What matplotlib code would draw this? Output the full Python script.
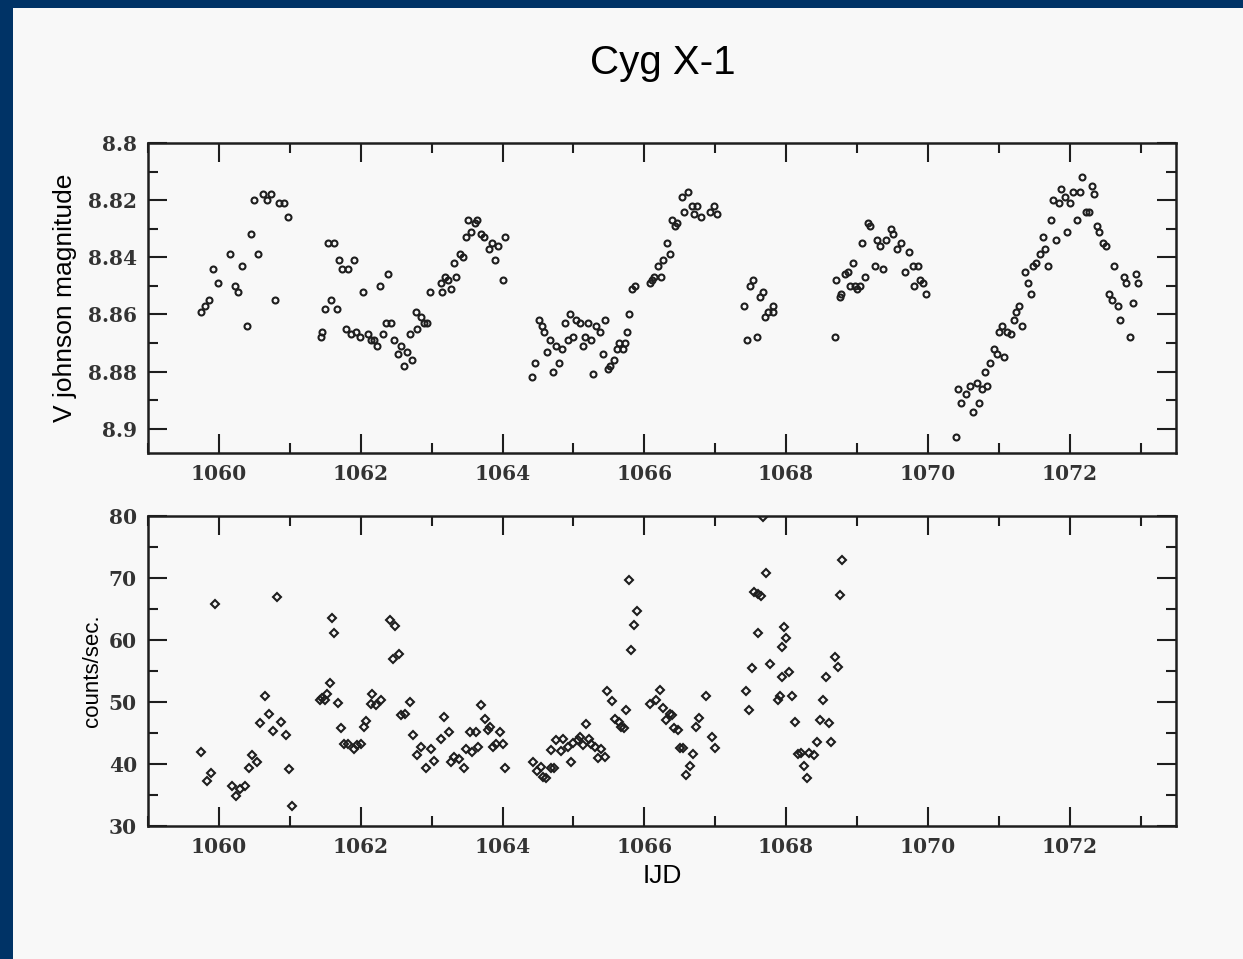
import numpy as np
import matplotlib
matplotlib.use('Agg')
import matplotlib.pyplot as plt
from matplotlib.ticker import MultipleLocator
from matplotlib.patches import Rectangle

# V band photometry (IJD, magnitude)
jd_v = [1059.74, 1059.80, 1059.86, 1059.92, 1059.99, 1060.15, 1060.22, 1060.27, 1060.33, 1060.39,
        1060.45, 1060.50, 1060.55, 1060.62, 1060.68, 1060.73, 1060.79, 1060.85, 1060.92, 1060.97,
        1061.44, 1061.46, 1061.54, 1061.62, 1061.50, 1061.58, 1061.66, 1061.70, 1061.74, 1061.82,
        1061.90, 1061.79, 1061.86, 1061.94, 1061.99, 1062.03, 1062.10, 1062.14, 1062.19, 1062.23,
        1062.27, 1062.32, 1062.36, 1062.38, 1062.43, 1062.47, 1062.57, 1062.52, 1062.61, 1062.65,
        1062.73, 1062.69, 1062.78, 1062.80, 1062.85, 1062.89, 1062.94, 1062.98, 1063.13, 1063.15,
        1063.19, 1063.23, 1063.27, 1063.31, 1063.35, 1063.40, 1063.44, 1063.48, 1063.52, 1063.55,
        1063.61, 1063.64, 1063.69, 1063.74, 1063.81, 1063.85, 1063.90, 1063.94, 1064.00, 1064.03,
        1064.42, 1064.46, 1064.51, 1064.56, 1064.59, 1064.63, 1064.67, 1064.71, 1064.75, 1064.80,
        1064.84, 1064.88, 1064.93, 1064.95, 1065.00, 1065.04, 1065.09, 1065.13, 1065.17, 1065.20,
        1065.25, 1065.28, 1065.32, 1065.37, 1065.42, 1065.45, 1065.49, 1065.52, 1065.57, 1065.62,
        1065.65, 1065.70, 1065.73, 1065.76, 1065.79, 1065.83, 1065.87, 1066.08, 1066.11, 1066.14,
        1066.20, 1066.24, 1066.27, 1066.32, 1066.36, 1066.39, 1066.43, 1066.46, 1066.53, 1066.56,
        1066.62, 1066.67, 1066.75, 1066.70, 1066.80, 1066.93, 1066.98, 1067.02,
        1067.41, 1067.45, 1067.49, 1067.54, 1067.59, 1067.63, 1067.67, 1067.70, 1067.75, 1067.81,
        1067.82,
        1068.69, 1068.70, 1068.76, 1068.77, 1068.83, 1068.88, 1068.90, 1068.94, 1068.97, 1069.00,
        1069.04, 1069.07, 1069.12, 1069.15, 1069.19, 1069.25, 1069.28, 1069.32, 1069.36, 1069.41,
        1069.48, 1069.51, 1069.56, 1069.62, 1069.68, 1069.73, 1069.79, 1069.86, 1069.80, 1069.89,
        1069.93, 1069.98,
        1070.40, 1070.43, 1070.47, 1070.54, 1070.59, 1070.64, 1070.69, 1070.72, 1070.77, 1070.83,
        1070.80, 1070.87, 1070.93, 1070.97, 1071.07, 1071.00, 1071.05, 1071.12, 1071.17, 1071.21,
        1071.25, 1071.29, 1071.33, 1071.37, 1071.41, 1071.45, 1071.48, 1071.53, 1071.58, 1071.62,
        1071.65, 1071.69, 1071.74, 1071.76, 1071.81, 1071.85, 1071.88, 1071.93, 1071.96, 1072.01,
        1072.05, 1072.10, 1072.14, 1072.18, 1072.23, 1072.27, 1072.31, 1072.35, 1072.38, 1072.41,
        1072.47, 1072.51, 1072.63, 1072.55, 1072.60, 1072.68, 1072.71, 1072.77, 1072.80, 1072.85,
        1072.89, 1072.93, 1072.96]
vmag = [8.859, 8.857, 8.855, 8.844, 8.849, 8.839, 8.850, 8.852, 8.843, 8.864,
        8.832, 8.820, 8.839, 8.818, 8.820, 8.818, 8.855, 8.821, 8.821, 8.826,
        8.868, 8.866, 8.835, 8.835, 8.858, 8.855, 8.858, 8.841, 8.844, 8.844,
        8.841, 8.865, 8.867, 8.866, 8.868, 8.852, 8.867, 8.869, 8.869, 8.871,
        8.850, 8.867, 8.863, 8.846, 8.863, 8.869, 8.871, 8.874, 8.878, 8.873,
        8.876, 8.867, 8.859, 8.865, 8.861, 8.863, 8.863, 8.852, 8.849, 8.852,
        8.847, 8.848, 8.851, 8.842, 8.847, 8.839, 8.840, 8.833, 8.827, 8.831,
        8.828, 8.827, 8.832, 8.833, 8.837, 8.835, 8.841, 8.836, 8.848, 8.833,
        8.882, 8.877, 8.862, 8.864, 8.866, 8.873, 8.869, 8.880, 8.871, 8.877,
        8.872, 8.863, 8.869, 8.860, 8.868, 8.862, 8.863, 8.871, 8.868, 8.863,
        8.869, 8.881, 8.864, 8.866, 8.874, 8.862, 8.879, 8.878, 8.876, 8.872,
        8.870, 8.872, 8.870, 8.866, 8.860, 8.851, 8.850, 8.849, 8.848, 8.847,
        8.843, 8.847, 8.841, 8.835, 8.839, 8.827, 8.829, 8.828, 8.819, 8.824,
        8.817, 8.822, 8.822, 8.825, 8.826, 8.824, 8.822, 8.825,
        8.857, 8.869, 8.850, 8.848, 8.868, 8.854, 8.852, 8.861, 8.859, 8.857,
        8.859,
        8.868, 8.848, 8.854, 8.853, 8.846, 8.845, 8.850, 8.842, 8.850, 8.851,
        8.850, 8.835, 8.847, 8.828, 8.829, 8.843, 8.834, 8.836, 8.844, 8.834,
        8.830, 8.832, 8.837, 8.835, 8.845, 8.838, 8.843, 8.843, 8.850, 8.848,
        8.849, 8.853,
        8.903, 8.886, 8.891, 8.888, 8.885, 8.894, 8.884, 8.891, 8.886, 8.885,
        8.880, 8.877, 8.872, 8.874, 8.875, 8.866, 8.864, 8.866, 8.867, 8.862,
        8.859, 8.857, 8.864, 8.845, 8.849, 8.853, 8.843, 8.842, 8.839, 8.833,
        8.837, 8.843, 8.827, 8.820, 8.834, 8.821, 8.816, 8.819, 8.831, 8.821,
        8.817, 8.827, 8.817, 8.812, 8.824, 8.824, 8.815, 8.818, 8.829, 8.831,
        8.835, 8.836, 8.843, 8.853, 8.855, 8.857, 8.862, 8.847, 8.849, 8.868,
        8.856, 8.846, 8.849]

# X-ray count rate (IJD, counts/sec)
jd_x = [1059.75, 1059.83, 1059.89, 1059.95, 1060.18, 1060.24, 1060.30, 1060.37, 1060.42, 1060.47,
        1060.53, 1060.58, 1060.65, 1060.71, 1060.76, 1060.82, 1060.88, 1060.94, 1060.99, 1061.03,
        1061.43, 1061.46, 1061.49, 1061.52, 1061.56, 1061.60, 1061.63, 1061.68, 1061.72, 1061.76,
        1061.82, 1061.91, 1061.95, 1062.01, 1062.05, 1062.08, 1062.16, 1062.14, 1062.21, 1062.28,
        1062.41, 1062.49, 1062.45, 1062.54, 1062.57, 1062.62, 1062.69, 1062.74, 1062.79, 1062.85,
        1062.92, 1062.99, 1063.03, 1063.13, 1063.17, 1063.24, 1063.28, 1063.31, 1063.38, 1063.45,
        1063.49, 1063.57, 1063.54, 1063.62, 1063.66, 1063.70, 1063.75, 1063.79, 1063.83, 1063.87,
        1063.91, 1063.96, 1064.01, 1064.03,
        1064.43, 1064.48, 1064.54, 1064.57, 1064.61, 1064.68, 1064.72, 1064.69, 1064.76, 1064.82,
        1064.86, 1064.93, 1064.97, 1065.00, 1065.06, 1065.10, 1065.14, 1065.18, 1065.22, 1065.25,
        1065.30, 1065.34, 1065.39, 1065.44, 1065.48, 1065.54, 1065.59, 1065.64, 1065.67, 1065.71,
        1065.74, 1065.78, 1065.81, 1065.85, 1065.90, 1066.08, 1066.17, 1066.22, 1066.26, 1066.31,
        1066.36, 1066.39, 1066.42, 1066.47, 1066.51, 1066.55, 1066.59, 1066.65, 1066.69, 1066.73,
        1066.77, 1066.87, 1066.95, 1067.00,
        1067.44, 1067.48, 1067.52, 1067.55, 1067.60, 1067.65, 1067.60, 1067.68, 1067.72, 1067.77,
        1067.89, 1067.91, 1067.94, 1067.94, 1067.97, 1068.00, 1068.04, 1068.09, 1068.13, 1068.17,
        1068.21, 1068.25, 1068.29, 1068.33, 1068.39, 1068.43, 1068.48, 1068.52, 1068.56, 1068.61,
        1068.64, 1068.69, 1068.73, 1068.76, 1068.79]
rate = [41.9, 37.3, 38.5, 65.8, 36.5, 34.8, 36.0, 36.5, 39.4, 41.5,
        40.4, 46.6, 51.0, 48.1, 45.4, 67.0, 46.7, 44.7, 39.2, 33.3,
        50.3, 50.6, 50.3, 51.3, 53.0, 63.6, 61.2, 49.9, 45.8, 43.2,
        43.2, 42.4, 43.1, 43.2, 46.0, 47.0, 51.3, 49.7, 49.5, 50.3,
        63.3, 62.3, 56.9, 57.7, 47.9, 48.1, 50.0, 44.7, 41.5, 42.7,
        39.3, 42.4, 40.5, 44.1, 47.6, 45.1, 40.4, 41.2, 40.8, 39.3,
        42.4, 42.0, 45.1, 45.1, 42.7, 49.5, 47.2, 45.5, 46.0, 42.8,
        43.2, 45.1, 43.2, 39.3,
        40.4, 38.8, 39.5, 37.9, 37.7, 39.3, 39.3, 42.3, 43.8, 42.1,
        44.0, 42.7, 40.3, 43.4, 43.9, 44.3, 43.1, 46.5, 44.1, 43.3,
        42.8, 40.9, 42.4, 41.2, 51.7, 50.2, 47.2, 46.7, 46.0, 45.8,
        48.7, 69.7, 58.4, 62.5, 64.7, 49.7, 50.3, 51.9, 49.0, 47.1,
        48.1, 47.9, 45.8, 45.5, 42.5, 42.5, 38.2, 39.7, 41.6, 46.0,
        47.4, 51.0, 44.3, 42.5,
        51.7, 48.7, 55.5, 67.8, 67.4, 67.1, 61.1, 79.9, 70.8, 56.1,
        50.3, 51.0, 54.1, 58.9, 62.1, 60.4, 54.9, 50.9, 46.8, 41.6,
        41.8, 39.6, 37.8, 41.7, 41.5, 43.6, 47.1, 50.3, 54.0, 46.6,
        43.6, 57.2, 55.6, 67.3, 72.9]

bg = '#f8f8f8'
navy = '#003366'
ink = '#1e1e1e'

fig = plt.figure(figsize=(12.43, 9.59), dpi=100, facecolor=bg)

# screenshot frame along left and top edges
fig.patches.append(Rectangle((0, 0), 13 / 1243, 1, transform=fig.transFigure,
                             facecolor=navy, edgecolor='none', zorder=10))
fig.patches.append(Rectangle((0, 1 - 8 / 959), 1, 8 / 959, transform=fig.transFigure,
                             facecolor=navy, edgecolor='none', zorder=10))

ax1 = fig.add_axes([0.1191, 0.5276, 0.8270, 0.3233])
ax2 = fig.add_axes([0.1191, 0.1387, 0.8270, 0.3232])

ax1.plot(jd_v, vmag, 'o', ms=4.3, mfc='none', mec=ink, mew=1.5)
ax2.plot(jd_x, rate, 'D', ms=4.3, mfc='none', mec=ink, mew=1.5)

ax1.set_ylim(8.9085, 8.8)
ax1.yaxis.set_minor_locator(MultipleLocator(0.01))
ax1.set_yticks([8.8, 8.82, 8.84, 8.86, 8.88, 8.9])
ax1.set_yticklabels(['8.8', '8.82', '8.84', '8.86', '8.88', '8.9'])
ax1.set_ylabel('V johnson magnitude', fontsize=19, family='Liberation Sans', labelpad=8)

ax2.set_ylim(30, 80)
ax2.yaxis.set_major_locator(MultipleLocator(10))
ax2.yaxis.set_minor_locator(MultipleLocator(5))
ax2.set_ylabel('counts/sec.', fontsize=16, family='Liberation Sans', labelpad=4)
ax2.set_xlabel('IJD', fontsize=19, family='Liberation Sans', labelpad=5)

for ax in (ax1, ax2):
    ax.set_facecolor(bg)
    ax.set_xlim(1059.0, 1073.5)
    ax.xaxis.set_major_locator(MultipleLocator(2))
    ax.xaxis.set_minor_locator(MultipleLocator(1))
    ax.tick_params(which='both', direction='in', top=True, right=True, width=1.5, color=ink)
    ax.tick_params(which='major', length=14, pad=8)
    ax.tick_params(which='minor', length=7)
    for lab in ax.get_xticklabels() + ax.get_yticklabels():
        lab.set_fontfamily('DejaVu Serif')
        lab.set_fontweight('bold')
        lab.set_fontsize(14.5)
        lab.set_color('#333333')
    for sp in ax.spines.values():
        sp.set_linewidth(1.8)
        sp.set_color(ink)

fig.text(0.533, 0.934, 'Cyg X-1', ha='center', va='center', fontsize=29, family='Liberation Sans')

fig.savefig('out.png', dpi=100, facecolor=bg)
